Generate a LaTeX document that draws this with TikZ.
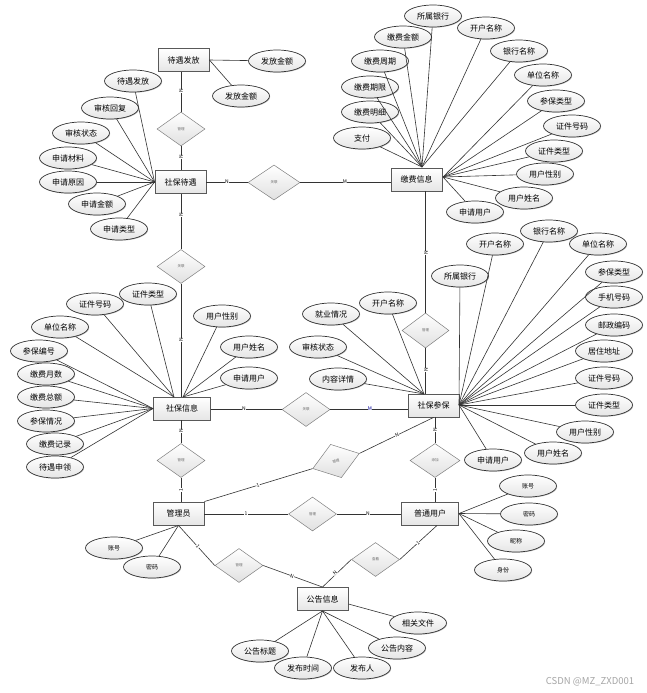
\documentclass[tikz,border=0pt]{standalone}
\usepackage{fontspec}
\setmainfont{Noto Sans CJK SC}
\usetikzlibrary{shapes.geometric,shadows}
\tikzset{
 ent/.style={draw=black!65, line width=0.9pt, top color=white, bottom color=black!10, minimum width=51pt, minimum height=23pt, inner sep=0pt, font=\fontsize{8}{8}\selectfont},
 attr/.style={ellipse, draw=black!80, line width=0.7pt, top color=white, bottom color=black!10, minimum width=57pt, minimum height=22pt, inner sep=0pt, font=\fontsize{8}{8}\selectfont, drop shadow={shadow xshift=0.7pt, shadow yshift=-0.7pt, opacity=0.45}},
 sattr/.style={attr, font=\fontsize{6}{6}\selectfont},
 rel/.style={diamond, draw=black!50, line width=0.5pt, top color=white, bottom color=black!12, minimum width=48pt, minimum height=34pt, inner sep=0pt, font=\fontsize{3.5}{4}\selectfont, text=black!60},
 ln/.style={draw=black!80, line width=0.6pt},
 card/.style={font=\fontsize{5}{5}\selectfont, fill=white, inner sep=0.3pt},
}
\begin{document}
\begin{tikzpicture}[x=1pt,y=-1pt]
\useasboundingbox (0,0) rectangle (647,693);
\fill[white] (0,0) rectangle (647,693);

% entities
\node[ent] (dyff) at (183.5,60) {待遇发放};
\node[ent] (sbdy) at (180.5,182) {社保待遇};
\node[ent] (jfxx) at (416.5,179.5) {缴费信息};
\node[ent, minimum width=57pt] (sbxx) at (182,408.5) {社保信息};
\node[ent] (sbcb) at (433.5,405.5) {社保参保};
\node[ent] (gly) at (178.5,513.5) {管理员};
\node[ent, minimum width=57pt] (ptyh) at (430,513.5) {普通用户};
\node[ent] (ggxx) at (322.5,599) {公告信息};

% relations
\node[rel] (r1) at (181,129) {管理};
\node[rel, minimum width=52pt, minimum height=35pt] (r2) at (274,182.5) {关联};
\node[rel] (r3) at (181,266.5) {关联};
\node[rel] (r4) at (181,460.5) {管理};
\node[rel] (r5) at (306,409.5) {关联};
\node[rel, minimum width=47pt, minimum height=35pt] (r6) at (425.5,330.5) {管理};
\node[rel, minimum width=50pt] (r7) at (435,460.5) {添加};
\node[rel, rotate=18, minimum width=49pt, minimum height=35pt] (r8) at (336,461) {管理};
\node[rel] (r9) at (312.5,514) {管理};
\node[rel] (r10) at (239,565.5) {管理};
\node[rel] (r11) at (375.5,559.5) {查看};

% relation lines
\draw[ln] (dyff.south -| r1.north) -- (r1.north);
\draw[ln] (r1.south) -- (r1.south |- sbdy.north);
\draw[ln] (sbdy.south -| r3.north) -- (r3.north);
\draw[ln] (r3.south) -- (r3.south |- sbxx.north);
\draw[ln] (sbxx.south -| r4.north) -- (r4.north);
\draw[ln] (r4.south) -- (r4.south |- gly.north);
\draw[ln] (sbdy.east |- r2.west) -- (r2.west);
\draw[ln] (r2.east) -- (r2.east -| jfxx.west);
\draw[ln] (sbxx.east |- r5.west) -- (r5.west);
\draw[ln] (r5.east) -- (r5.east -| sbcb.west);
\draw[ln] (jfxx.south -| r6.north) -- (r6.north);
\draw[ln] (r6.south) -- (r6.south |- sbcb.north);
\draw[ln] (sbcb.south -| r7.north) -- (r7.north);
\draw[ln] (r7.south) -- (r7.south |- ptyh.north);
\draw[ln] (gly.east |- r9.west) -- (r9.west);
\draw[ln] (r9.east) -- (r9.east -| ptyh.west);
\draw[ln] (gly.north east) -- (r8.west);
\draw[ln] (r8.east) -- (sbcb.south);
\draw[ln] (gly.south) -- (r10.west);
\draw[ln] (r10.east) -- (ggxx.north);
\draw[ln] ([xshift=7pt]ptyh.south) -- (r11.east);
\draw[ln] (r11.west) -- (ggxx.north);

% cardinalities
\node[card, rotate=90] at (181,91) {N};
\node[card, rotate=90] at (181,157) {N};
\node[card, rotate=90] at (181,215) {N};
\node[card, rotate=90] at (181,340) {N};
\node[card, rotate=90] at (181,431) {N};
\node[card, rotate=90] at (181,490) {1};
\node[card] at (227,182) {N};
\node[card] at (345,182) {M};
\node[card] at (244,408.5) {N};
\node[card, text=blue!60!black] at (370,408.5) {M};
\node[card, rotate=90] at (426,253) {N};
\node[card, rotate=90] at (426,370) {N};
\node[card, rotate=90] at (435,430) {N};
\node[card, rotate=90] at (435,490) {1};
\node[card, rotate=18] at (258,485) {1};
\node[card, rotate=25] at (397,435) {N};
\node[card] at (246,513.5) {1};
\node[card] at (368,513.5) {N};
\node[card, rotate=-50] at (198,546) {1};
\node[card, rotate=-20] at (292,576) {N};
\node[card, rotate=40] at (418,543) {1};
\node[card, rotate=42] at (335,573) {N};

% 待遇发放 attributes
\node[attr] (a1) at (277,61) {发放金额};
\node[attr] (a2) at (241,96) {发放金额};
\draw[ln] (dyff.east) -- (a1);
\draw[ln] (dyff.east) -- (a2);

% 社保待遇 attributes
\node[attr] (b1) at (133,81) {待遇发放};
\node[attr] (b2) at (110,108) {审核回复};
\node[attr] (b3) at (81,133) {审核状态};
\node[attr] (b4) at (68,158) {申请材料};
\node[attr] (b5) at (68,182) {申请原因};
\node[attr] (b6) at (97,204) {申请金额};
\node[attr] (b7) at (119,229) {申请类型};
\foreach \n in {b1,b2,b3,b4,b5,b6,b7} \draw[ln] (sbdy.west) -- (\n);

% 缴费信息 attributes
\coordinate (jt) at (422,167);
\coordinate (jr) at (443,177);
\node[attr] (c1) at (433,16) {所属银行};
\node[attr] (c2) at (486,28) {开户名称};
\node[attr] (c3) at (403,37) {缴费金额};
\node[attr] (c4) at (519,51) {银行名称};
\node[attr] (c5) at (380,61) {缴费周期};
\node[attr] (c6) at (543,75) {单位名称};
\node[attr] (c7) at (370,87) {缴费期限};
\node[attr] (c8) at (556,101) {参保类型};
\node[attr] (c9) at (370,112) {缴费明细};
\node[attr] (c10) at (572,126) {证件号码};
\node[attr] (c11) at (362,138) {支付};
\node[attr] (c12) at (554,151) {证件类型};
\node[attr] (c13) at (545,174) {用户性别};
\node[attr] (c14) at (524,198) {用户姓名};
\node[attr] (c15) at (475,212) {申请用户};
\foreach \n in {c1,c2,c3,c4,c5,c7,c9,c11} \draw[ln] (jt) -- (\n);
\foreach \n in {c6,c8,c10,c12,c13,c14,c15} \draw[ln] (jr) -- (\n);

% 社保信息 attributes
\coordinate (st) at (174,397);
\coordinate (sr) at (183,397);
\node[attr] (d1) at (148,294) {证件类型};
\node[attr] (d2) at (95,304) {证件号码};
\node[attr] (d3) at (60,327) {单位名称};
\node[attr] (d4) at (222,316) {用户性别};
\node[attr] (d5) at (39,351) {参保编号};
\node[attr] (d6) at (249,347) {用户姓名};
\node[attr] (d7) at (46,374) {缴费月数};
\node[attr] (d8) at (249,378) {申请用户};
\node[attr] (d9) at (46,397) {缴费总额};
\node[attr] (d10) at (46,421) {参保情况};
\node[attr] (d11) at (55,444) {缴费记录};
\node[attr] (d12) at (55,467) {待遇申领};
\foreach \n in {d1,d2,d3} \draw[ln] (st) -- (\n);
\foreach \n in {d4,d6,d8} \draw[ln] (sr) -- (\n);
\foreach \n in {d5,d7,d9,d10,d11,d12} \draw[ln] (sbxx.west) -- (\n);

% 社保参保 attributes
\coordinate (pt) at (424,394);
\coordinate (pr) at (459,405);
\node[attr] (e1) at (549,231) {银行名称};
\node[attr] (e2) at (495,244) {开户名称};
\node[attr] (e3) at (598,244) {单位名称};
\node[attr] (e4) at (460,276) {所属银行};
\node[attr] (e5) at (614,272) {参保类型};
\node[attr] (e6) at (388,303) {开户名称};
\node[attr] (e7) at (614,297) {手机号码};
\node[attr] (e8) at (331,314) {就业情况};
\node[attr] (e9) at (614,325) {邮政编码};
\node[attr] (e10) at (318,347) {审核状态};
\node[attr] (e11) at (604,351) {居住地址};
\node[attr] (e12) at (338,379) {内容详情};
\node[attr] (e13) at (604,378) {证件号码};
\node[attr] (e14) at (604,405) {证件类型};
\node[attr] (e15) at (585,432) {用户性别};
\node[attr] (e16) at (553,453) {用户姓名};
\node[attr] (e17) at (493,460) {申请用户};
\foreach \n in {e6,e8,e10,e12} \draw[ln] (pt) -- (\n);
\foreach \n in {e1,e2,e3,e4,e5,e7,e9,e11,e13,e14,e15,e16,e17} \draw[ln] (pr) -- (\n);

% 管理员 attributes
\node[sattr] (f1) at (114,548) {账号};
\node[sattr] (f2) at (152,567) {密码};
\draw[ln] (gly.south) -- (f1);
\draw[ln] (gly.south) -- (f2);

% 普通用户 attributes
\node[sattr] (g1) at (528,486) {账号};
\node[sattr] (g2) at (529,514) {密码};
\node[sattr] (g3) at (516,541) {昵称};
\node[sattr] (g4) at (503,570) {身份};
\foreach \n in {g1,g2,g3,g4} \draw[ln] (ptyh.east) -- (\n);

% 公告信息 attributes
\node[attr] (h1) at (418,623) {相关文件};
\node[attr] (h2) at (397,648) {公告内容};
\node[attr] (h3) at (362,668) {发布人};
\node[attr] (h4) at (303,668) {发布时间};
\node[attr] (h5) at (260,651) {公告标题};
\draw[ln] ([yshift=-5pt]ggxx.east) -- (h1);
\foreach \n in {h2,h3,h4,h5} \draw[ln] (ggxx.south) -- (\n);

\node[font=\fontsize{9.5}{10}\selectfont, text=black!35] (wm) at (590,682) {CSDN @MZ\_ZXD001};
\end{tikzpicture}
\end{document}
